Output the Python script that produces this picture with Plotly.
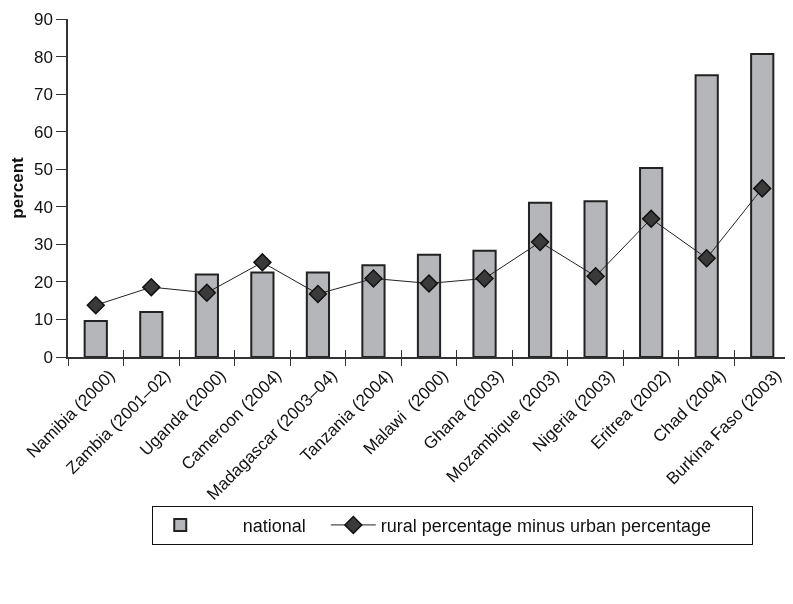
import plotly.graph_objects as go

countries = ["Namibia (2000)", "Zambia (2001–02)", "Uganda (2000)", "Cameroon (2004)",
             "Madagascar (2003–04)", "Tanzania (2004)", "Malawi  (2000)", "Ghana (2003)",
             "Mozambique (2003)", "Nigeria (2003)", "Eritrea (2002)", "Chad (2004)",
             "Burkina Faso (2003)"]
national = [9.6, 12.0, 22.0, 22.5, 22.5, 24.4, 27.2, 28.3, 41.1, 41.5, 50.3, 75.0, 80.7]
rural_minus_urban = [13.8, 18.6, 17.1, 25.2, 16.8, 20.9, 19.6, 20.9, 30.6, 21.5, 36.8, 26.3, 44.9]
y_ticks = [0, 10, 20, 30, 40, 50, 60, 70, 80, 90]

FONT = "Liberation Sans, Arial, sans-serif"
NB = "\u00a0"

fig = go.Figure()
fig.add_trace(go.Bar(
    x=countries, y=national, name=NB * 7 + "national" + NB * 3, width=0.4,
    marker=dict(color="#b5b6b9", line=dict(color="#222222", width=2)),
))
fig.add_trace(go.Scatter(
    x=countries, y=rural_minus_urban, name="rural percentage minus urban percentage" + NB * 7,
    mode="lines+markers",
    line=dict(color="#222222", width=1),
    marker=dict(symbol="diamond", size=13, color="#3a3a3a", line=dict(color="#111111", width=1.5)),
))
# invisible helper trace to draw inward ticks (cross ticks on the x axis)
fig.add_trace(go.Scatter(
    x=countries, y=national, xaxis="x2", mode="markers", opacity=0,
    showlegend=False, hoverinfo="skip",
))

n = len(countries)
fig.update_layout(
    width=785, height=596,
    paper_bgcolor="white", plot_bgcolor="white",
    margin=dict(l=60, r=3, t=11, b=247),
    font=dict(family=FONT, size=17, color="#111111"),
    showlegend=True,
    legend=dict(
        orientation="h", x=0.116, y=-0.44, xanchor="left", yanchor="top",
        bordercolor="#111111", borderwidth=1, font=dict(size=18),
        itemwidth=45,
    ),
    xaxis=dict(
        type="category", range=[-0.5, n - 0.5], showline=True, linecolor="#333333", linewidth=1.5,
        ticks="outside", ticklen=7, tickcolor="#333333", tickwidth=1.2,
        tickson="boundaries", tickangle=-45, showgrid=False, zeroline=False,
        tickfont=dict(size=17), automargin=False, ticklabelshift=14,
    ),
    xaxis2=dict(
        type="category", overlaying="x", matches="x", anchor="y",
        ticks="inside", ticklen=7, tickcolor="#333333", tickwidth=1.2,
        tickson="boundaries", showticklabels=False, showgrid=False,
        showline=False, zeroline=False, side="bottom",
    ),
    yaxis=dict(
        range=[0, 90], tickvals=y_ticks, showline=True, linecolor="#333333", linewidth=1.5,
        ticks="outside", ticklen=10, tickcolor="#333333", tickwidth=1.2,
        showgrid=False, zeroline=False, tickfont=dict(size=17), automargin=False,
        ticklabeloverflow="allow",
        title=dict(text="<b>percent</b>", font=dict(size=17), standoff=18),
    ),
    bargap=0.6,
)

fig.write_html("out.html")
